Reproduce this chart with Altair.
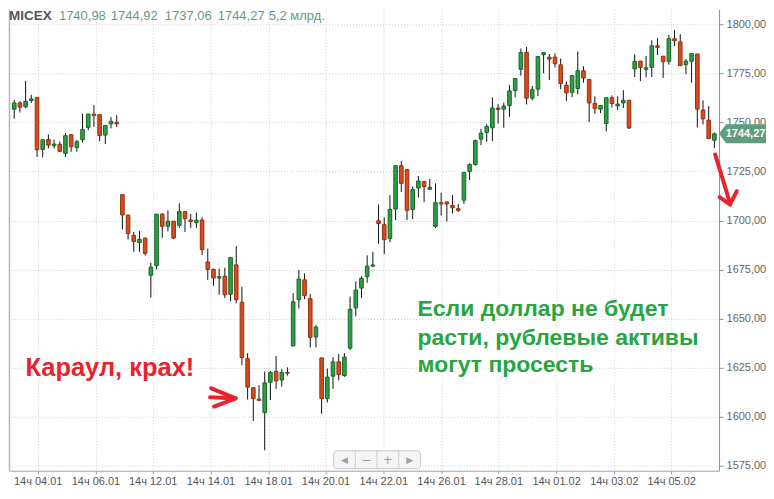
import json
import altair as alt
import pandas as pd

# ---------------- data ----------------
opens = [1756.8, 1760.0, 1758.0, 1761.2, 1762.8, 1736.3, 1741.3, 1738.2, 1738.9, 1734.3,
         1743.8, 1737.3, 1741.2, 1747.5, 1754.3, 1754.0, 1743.6, 1749.3, 1750.1, 1713.2,
         1702.8, 1692.5, 1688.8, 1691.1, 1672.1, 1677.1, 1703.3, 1697.1, 1699.7, 1697.6,
         1704.6, 1700.3, 1699.0, 1700.3, 1678.9, 1675.1, 1670.7, 1671.6, 1662.4, 1677.4,
         1658.4, 1629.6, 1614.8, 1609.0, 1602.1, 1617.6, 1623.1, 1618.7, 1622.6, 1636.1,
         1659.7, 1669.8, 1660.2, 1640.7, 1630.0, 1609.3, 1620.7, 1628.0, 1621.0, 1635.0,
         1655.5, 1665.6, 1671.4, 1676.8, 1699.9, 1697.9, 1690.9, 1705.9, 1728.0, 1726.0,
         1705.6, 1716.6, 1719.9, 1716.0, 1697.1, 1709.1, 1709.5, 1707.7, 1706.1, 1710.4,
         1725.1, 1728.6, 1741.5, 1744.9, 1747.3, 1757.4, 1756.8, 1758.7, 1766.3, 1777.1,
         1785.7, 1762.4, 1767.0, 1784.6, 1783.3, 1783.3, 1779.4, 1769.0, 1765.4, 1767.3,
         1776.4, 1771.9, 1759.7, 1756.8, 1749.5, 1762.6, 1758.5, 1760.0, 1761.3, 1777.3,
         1781.3, 1777.1, 1778.1, 1789.1, 1783.8, 1781.2, 1792.7, 1791.1, 1779.5, 1781.2,
         1784.9, 1756.4, 1751.2, 1740.98]
highs = [1761.5, 1760.8, 1771.2, 1764.1, 1763.0, 1741.2, 1743.9, 1741.2, 1740.3, 1744.6,
         1744.0, 1741.2, 1754.5, 1754.4, 1758.9, 1754.1, 1748.6, 1752.7, 1753.7, 1713.5,
         1702.9, 1694.3, 1694.8, 1691.2, 1678.5, 1703.3, 1703.6, 1705.2, 1699.8, 1708.8,
         1704.7, 1703.3, 1704.1, 1701.7, 1685.7, 1675.6, 1675.5, 1676.0, 1681.2, 1687.0,
         1666.2, 1632.4, 1614.9, 1616.1, 1623.1, 1623.3, 1630.9, 1624.3, 1625.2, 1663.0,
         1674.8, 1673.0, 1662.6, 1646.7, 1630.1, 1624.6, 1630.4, 1632.1, 1632.4, 1661.3,
         1669.0, 1671.6, 1682.3, 1684.1, 1708.2, 1701.7, 1713.0, 1728.1, 1730.4, 1726.1,
         1717.4, 1722.8, 1720.0, 1721.2, 1719.0, 1714.2, 1709.6, 1713.0, 1708.5, 1724.7,
         1729.3, 1741.3, 1746.8, 1749.1, 1762.8, 1759.4, 1760.2, 1769.1, 1772.5, 1787.7,
         1788.5, 1768.6, 1783.7, 1785.7, 1784.9, 1785.2, 1782.6, 1770.9, 1774.0, 1786.2,
         1778.7, 1772.0, 1763.3, 1758.8, 1762.7, 1763.8, 1763.3, 1766.5, 1761.4, 1784.7,
         1781.4, 1783.9, 1791.9, 1793.0, 1783.9, 1794.6, 1797.1, 1795.0, 1782.4, 1785.2,
         1785.0, 1761.3, 1758.4, 1744.92]
lows = [1751.9, 1755.1, 1757.3, 1760.0, 1732.4, 1732.2, 1736.8, 1736.8, 1735.1, 1732.4,
        1735.1, 1735.1, 1739.7, 1746.0, 1747.8, 1740.5, 1739.0, 1747.0, 1747.8, 1695.5,
        1690.3, 1684.1, 1684.1, 1682.2, 1660.8, 1675.1, 1691.2, 1694.5, 1690.6, 1696.3,
        1694.2, 1696.3, 1696.3, 1682.4, 1669.8, 1666.8, 1662.3, 1660.5, 1658.9, 1657.8,
        1626.3, 1608.8, 1597.9, 1608.3, 1582.9, 1608.5, 1614.2, 1615.3, 1621.0, 1636.0,
        1655.1, 1660.0, 1635.3, 1635.3, 1601.5, 1607.3, 1614.2, 1618.5, 1620.3, 1634.0,
        1651.2, 1660.5, 1668.3, 1676.3, 1688.2, 1682.9, 1689.0, 1700.3, 1714.6, 1700.3,
        1700.8, 1711.7, 1709.3, 1715.6, 1696.1, 1702.6, 1699.5, 1703.6, 1704.4, 1708.5,
        1720.7, 1728.0, 1738.5, 1740.2, 1740.5, 1749.5, 1747.3, 1752.9, 1762.9, 1773.9,
        1759.2, 1761.3, 1763.4, 1775.1, 1771.6, 1778.1, 1767.0, 1761.0, 1762.9, 1764.4,
        1770.3, 1750.3, 1754.5, 1754.8, 1745.4, 1757.6, 1756.4, 1757.4, 1746.7, 1773.2,
        1771.1, 1773.0, 1773.2, 1784.4, 1772.7, 1779.5, 1789.0, 1779.0, 1774.6, 1770.3,
        1747.5, 1749.0, 1741.8, 1737.06]
closes = [1760.0, 1757.8, 1760.8, 1762.0, 1736.1, 1741.2, 1738.5, 1739.0, 1735.3, 1743.3,
          1737.6, 1740.2, 1746.5, 1754.3, 1753.5, 1743.4, 1748.5, 1750.6, 1749.3, 1702.9,
          1693.4, 1689.3, 1690.4, 1683.3, 1676.3, 1703.3, 1697.1, 1699.7, 1691.1, 1704.6,
          1701.0, 1699.5, 1700.2, 1685.2, 1675.1, 1670.7, 1671.4, 1662.2, 1681.2, 1659.7,
          1630.2, 1615.1, 1609.3, 1608.3, 1617.3, 1622.6, 1618.3, 1622.6, 1622.2, 1658.6,
          1670.2, 1661.7, 1640.5, 1645.7, 1609.3, 1620.2, 1628.0, 1621.5, 1630.4, 1654.8,
          1664.6, 1670.6, 1676.8, 1677.4, 1698.5, 1690.3, 1705.7, 1728.0, 1719.0, 1705.2,
          1715.8, 1720.2, 1717.3, 1716.8, 1709.1, 1708.5, 1708.5, 1706.5, 1705.2, 1724.6,
          1728.6, 1740.8, 1744.6, 1748.0, 1757.4, 1756.6, 1758.4, 1766.1, 1772.4, 1785.7,
          1762.4, 1766.7, 1783.6, 1785.6, 1782.3, 1780.0, 1769.8, 1765.1, 1773.9, 1776.4,
          1772.7, 1760.0, 1757.1, 1758.7, 1762.6, 1759.7, 1759.4, 1761.3, 1747.2, 1781.2,
          1778.1, 1777.9, 1789.1, 1788.3, 1781.0, 1792.7, 1791.7, 1779.0, 1781.3, 1785.1,
          1756.8, 1751.9, 1741.8, 1744.27]

tick_pos = [4.11, 14.26, 24.32, 34.47, 44.62, 54.68, 64.83, 74.98, 85.04, 95.19, 105.34, 115.40]
tick_labels = ["14ч 04.01", "14ч 06.01", "14ч 12.01", "14ч 14.01", "14ч 18.01", "14ч 20.01",
               "14ч 22.01", "14ч 26.01", "14ч 28.01", "14ч 01.02", "14ч 03.02", "14ч 05.02"]
y_ticks = [1575, 1600, 1625, 1650, 1675, 1700, 1725, 1750, 1775, 1800]

header_labels = ["MICEX", "1740,98", "1744,92", "1737,06", "1744,27", "5,2 млрд."]
last_close = 1744.27
last_label = "1744,27"

red_note = "Караул, крах!"
green_note = ["Если доллар не будет", "расти, рублевые активы", "могут просесть"]

# ---------------- layout / style ----------------
W, H = 711, 462
FONT = "Liberation Sans"
GREEN, GREEN_D = "#2f9e44", "#17652a"
RED, RED_D = "#d84b1e", "#93300f"
ANN_RED = "#e8232d"
ANN_GREEN = "#27a541"
TAG = "#5f9d7e"

xs = alt.Scale(domain=[-0.92, 123.82], nice=False, zero=False, padding=0)
ys = alt.Scale(domain=[1572.5, 1807.7], nice=False, zero=False, padding=0)

x_label_expr = (json.dumps(tick_labels, ensure_ascii=False)
                + "[indexof(" + json.dumps(tick_pos) + ", datum.value)]")

x_axis = alt.Axis(values=tick_pos, labelExpr=x_label_expr, title=None,
                  grid=True, gridDash=[1, 2], gridColor="#cdcdcd",
                  domainColor="#a0a0a0", tickColor="#a0a0a0", tickSize=3,
                  labelPadding=2, labelFont=FONT, labelFontSize=11,
                  labelColor="#555555", labelFlush=False, labelOverlap=False)
y_axis = alt.Axis(orient="right", values=y_ticks, title=None,
                  labelExpr="replace(format(datum.value, '.2f'), '.', ',')",
                  grid=True, gridDash=[1, 2], gridColor="#cdcdcd",
                  domainColor="#8c8c8c", tickColor="#8c8c8c", tickSize=4,
                  labelPadding=3, labelFont=FONT, labelFontSize=11,
                  labelColor="#666666", labelOverlap=False)

df = pd.DataFrame({"i": list(range(len(opens))), "open": opens, "high": highs,
                   "low": lows, "close": closes})

up = "datum.close >= datum.open"

wicks = alt.Chart(df).mark_rule(color="#111111", strokeWidth=1).encode(
    x=alt.X("i:Q", scale=xs, axis=x_axis),
    y=alt.Y("low:Q", scale=ys, axis=y_axis),
    y2="high:Q",
)

bodies = alt.Chart(df).mark_bar(size=3.6, strokeWidth=1).encode(
    x=alt.X("i:Q", scale=xs),
    y=alt.Y("open:Q", scale=ys),
    y2="close:Q",
    fill=alt.condition(up, alt.value(GREEN), alt.value(RED)),
    stroke=alt.condition(up, alt.value(GREEN_D), alt.value(RED_D)),
)

layers = [wicks, bodies]

# left border of the plot
layers.append(alt.Chart(df.head(1)).mark_rule(color="#b5b5b5", strokeWidth=1.5).encode(
    x=alt.value(0.5), y=alt.value(0), y2=alt.value(H)))

# header line
header_x = [0, 50, 102, 156, 209, 260]
for k, (lab, hx) in enumerate(zip(header_labels, header_x)):
    layers.append(alt.Chart(df.head(1)).mark_text(
        text=lab, align="left", baseline="middle", font=FONT,
        fontSize=13.5 if k == 0 else 13, fontWeight="bold" if k == 0 else "normal",
        color="#555555" if k == 0 else "#5f9d7e",
    ).encode(x=alt.value(hx), y=alt.value(6.5)))

# last price tag on the axis
tag_df = pd.DataFrame({"price": [last_close], "label": [last_label]})
TAG_PATH = "M-1,0 L-0.70,-0.40 L1,-0.40 L1,0.40 L-0.70,0.40 Z"
layers.append(alt.Chart(tag_df).mark_point(
    shape=TAG_PATH, size=47 * 47, filled=True, fill=TAG, opacity=1, strokeWidth=0
).encode(x=alt.value(W + 23.5), y=alt.Y("price:Q", scale=ys)))
layers.append(alt.Chart(tag_df).mark_text(
    align="center", baseline="middle", font=FONT, fontSize=11, fontWeight="bold",
    color="white"
).encode(x=alt.value(W + 26.5), y=alt.Y("price:Q", scale=ys), text="label:N"))

# annotations (placed in data coordinates: candle index, price)
red_df = pd.DataFrame({"i": [16.8], "p": [1624.7], "t": [red_note]})
layers.append(alt.Chart(red_df).mark_text(
    align="center", baseline="middle", font=FONT, fontSize=25.5, fontWeight="bold",
    color=ANN_RED).encode(
    x=alt.X("i:Q", scale=xs), y=alt.Y("p:Q", scale=ys), text="t:N"))

green_df = pd.DataFrame({"i": [70.85, 70.85, 70.85], "p": [1654.9, 1640.3, 1626.2],
                         "t": green_note})
layers.append(alt.Chart(green_df).mark_text(
    align="left", baseline="middle", font=FONT, fontSize=23, fontWeight="bold",
    color=ANN_GREEN).encode(
    x=alt.X("i:Q", scale=xs), y=alt.Y("p:Q", scale=ys), text="t:N"))

# hand-drawn red arrows
arrow_df = pd.DataFrame({
    "i":  [34.6, 35.1, 34.4, 123.13, 123.91, 126.94],
    "i2": [38.9, 38.9, 38.4, 125.73, 125.73, 125.73],
    "p":  [1614.5, 1605.2, 1609.9, 1733.7, 1712.0, 1715.0],
    "p2": [1609.4, 1609.4, 1609.4, 1709.1, 1708.2, 1708.2],
})
layers.append(alt.Chart(arrow_df).mark_rule(
    color=ANN_RED, strokeWidth=4, strokeCap="round").encode(
    x=alt.X("i:Q", scale=xs), x2="i2:Q",
    y=alt.Y("p:Q", scale=ys), y2="p2:Q"))

# navigation buttons at the bottom of the plot
nx0, nx1, ny0, ny1 = 325, 412, 442, 460
layers.append(alt.Chart(df.head(1)).mark_rect(
    fill="#f4f4f4", stroke="#c9c9c9", strokeWidth=1, cornerRadius=3).encode(
    x=alt.value(nx0), x2=alt.value(nx1), y=alt.value(ny0), y2=alt.value(ny1)))
bw = (nx1 - nx0) / 4
for k in range(1, 4):
    layers.append(alt.Chart(df.head(1)).mark_rule(color="#d0d0d0", strokeWidth=1).encode(
        x=alt.value(nx0 + k * bw), y=alt.value(ny0), y2=alt.value(ny1)))
for k, sym in enumerate(["◀", "−", "+", "▶"]):
    layers.append(alt.Chart(df.head(1)).mark_text(
        text=sym, align="center", baseline="middle", font="DejaVu Sans",
        fontSize=9 if k in (0, 3) else 12, color="#a0a0a0").encode(
        x=alt.value(nx0 + (k + 0.5) * bw), y=alt.value((ny0 + ny1) / 2)))

chart = alt.layer(*layers).properties(
    width=W, height=H, padding={"left": 0, "top": 0, "right": 0, "bottom": 0},
    background="white",
).configure_view(stroke=None)

chart.save("out.html", embed_options={"renderer": "svg", "actions": False})
